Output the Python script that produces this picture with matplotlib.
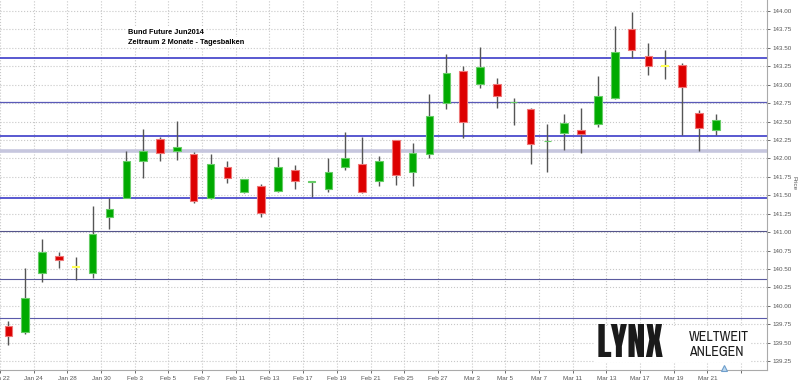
import matplotlib.pyplot as plt
import numpy as np
from matplotlib.patches import Rectangle

# daily bars, Bund Future Jun2014
dates = ["Jan 22", "Jan 23", "Jan 24", "Jan 27", "Jan 28", "Jan 29", "Jan 30", "Jan 31",
         "Feb 3", "Feb 4", "Feb 5", "Feb 6", "Feb 7", "Feb 10", "Feb 11", "Feb 12",
         "Feb 13", "Feb 14", "Feb 17", "Feb 18", "Feb 19", "Feb 20", "Feb 21", "Feb 24",
         "Feb 25", "Feb 26", "Feb 27", "Feb 28", "Mar 3", "Mar 4", "Mar 5", "Mar 6",
         "Mar 7", "Mar 10", "Mar 11", "Mar 12", "Mar 13", "Mar 14", "Mar 17", "Mar 18",
         "Mar 19", "Mar 20", "Mar 21"]
opens = [139.72, 139.64, 140.45, 140.67, 140.52, 140.44, 141.20, 141.46,
         141.97, 142.26, 142.10, 142.06, 141.46, 141.88, 141.55, 141.63,
         141.56, 141.84, 141.68, 141.59, 141.89, 141.93, 141.70, 142.25,
         141.81, 142.06, 142.75, 143.19, 143.01, 143.01, 142.76, 142.67,
         142.23, 142.35, 142.39, 142.46, 142.82, 143.76, 143.39, 143.26,
         143.27, 142.62, 142.38]
highs = [139.80, 140.51, 140.90, 140.73, 140.66, 141.36, 141.46, 142.10,
         142.40, 142.29, 142.51, 142.09, 142.06, 141.96, 141.72, 141.65,
         142.02, 141.91, 141.69, 142.00, 142.36, 142.29, 142.03, 142.25,
         142.21, 142.88, 143.42, 143.26, 143.51, 143.09, 142.82, 142.69,
         142.46, 142.60, 142.69, 143.12, 143.80, 143.98, 143.56, 143.47,
         143.29, 142.66, 142.60]
lows = [139.47, 139.62, 140.32, 140.51, 140.35, 140.38, 141.04, 141.46,
        141.74, 141.97, 141.98, 141.40, 141.45, 141.66, 141.53, 141.20,
        141.54, 141.59, 141.47, 141.54, 141.84, 141.53, 141.63, 141.64,
        141.62, 142.00, 142.67, 142.28, 142.95, 142.69, 142.45, 141.93,
        141.81, 142.12, 142.07, 142.42, 142.80, 143.36, 143.13, 143.08,
        142.32, 142.10, 142.32]
closes = [139.59, 140.11, 140.73, 140.62, 140.52, 140.98, 141.31, 141.97,
          142.10, 142.07, 142.15, 141.42, 141.92, 141.73, 141.72, 141.26,
          141.88, 141.70, 141.69, 141.82, 142.01, 141.55, 141.97, 141.78,
          142.07, 142.57, 143.16, 142.49, 143.24, 142.84, 142.77, 142.20,
          142.24, 142.48, 142.33, 142.84, 143.44, 143.47, 143.25, 143.26,
          142.97, 142.41, 142.52]

# horizontal support / resistance lines
levels = [143.36, 142.76, 142.30, 142.10, 141.46, 141.015, 140.365, 139.83]
level_colors = ["#3c3cc8", "#5a5ab8", "#3c3cc8", "#c6c6de", "#3c3cc8", "#55558c", "#5a5a9e", "#5a5aaa"]
level_widths = [1.2, 0.9, 1.2, 2.6, 1.2, 0.8, 0.8, 0.8]

x = np.arange(len(dates))
o = np.array(opens)
c = np.array(closes)

fig = plt.figure(figsize=(8, 3.81), dpi=100)
ax = fig.add_axes([0, 11 / 381, 767 / 800, 370 / 381])

ax.set_xlim(-0.415, 45.04)
ax.set_ylim(139.129, 144.149)

for lvl, col, lw in zip(levels, level_colors, level_widths):
    ax.axhline(lvl, color=col, lw=lw, zorder=2)

ax.vlines(x, lows, highs, color="#555555", lw=1, zorder=3)

up = c > o
down = c < o
flat = c == o
ax.bar(x[up], c[up] - o[up], bottom=o[up], width=0.45,
       color="#00aa00", edgecolor="#66cc66", lw=0.8, zorder=4)
ax.bar(x[down], c[down] - o[down], bottom=o[down], width=0.45,
       color="#dd0000", edgecolor="#ee7777", lw=0.8, zorder=4)
ax.hlines(c[flat], x[flat] - 0.25, x[flat] + 0.25, color="#ffff55", lw=1.5, zorder=4)

# small marker at the end of the time axis
ax.plot([len(dates) - 0.5], [139.16], marker="^", ms=5, mfc="#bcd8f0", mec="#6f9fcc",
        mew=0.8, clip_on=False, zorder=5)

# axes styling
ax.yaxis.tick_right()
yt = np.arange(139.25, 144.01, 0.25)
ax.set_yticks(yt)
ax.set_yticklabels(["%.2f" % v for v in yt])
xt = np.arange(-0.5, 45, 2)
ax.set_xticks(xt)
ax.set_xticklabels(dates[::2] + [""] * (len(xt) - len(dates[::2])))
ax.tick_params(labelsize=4.5, colors="#555555", length=2, width=0.6, pad=2)
for lab in ax.get_xticklabels() + ax.get_yticklabels():
    lab.set_family("Liberation Sans")
ax.grid(True, color="#c8c8c8", linestyle=":", lw=0.8, zorder=0)
ax.set_axisbelow(True)
for side in ["left", "top"]:
    ax.spines[side].set_visible(False)
for side in ["right", "bottom"]:
    ax.spines[side].set_color("#aaaaaa")
    ax.spines[side].set_linewidth(0.8)

fig.text(794 / 800, 1 - 183 / 381, "Price", rotation=270, fontsize=4.5, color="#555555",
         family="Liberation Sans", ha="center", va="center")

# title block
fig.text(128 / 800, 1 - 32 / 381, "Bund Future Jun2014", fontsize=5.3, weight="bold",
         family="Liberation Sans", va="center", ha="left",
         bbox=dict(fc="white", ec="none", pad=1))
fig.text(128 / 800, 1 - 42 / 381, "Zeitraum 2 Monate - Tagesbalken", fontsize=5.3, weight="bold",
         family="Liberation Sans", va="center", ha="left",
         bbox=dict(fc="white", ec="none", pad=1))

# logo
fig.patches.append(Rectangle((594 / 800, 1 - 362 / 381), 156 / 800, 36 / 381,
                             transform=fig.transFigure, fc="white", ec="none", zorder=6))
fig.text(597 / 800, 1 - 357 / 381, "LYNX", fontsize=26.5, color="#1a1a1a",
         family=["Anton", "Liberation Sans"], va="baseline", ha="left", zorder=7)
fig.text(689 / 800, 1 - 341 / 381, "WELTWEIT", fontsize=10, color="#1a1a1a",
         family=["Archivo Narrow", "Liberation Sans"], va="baseline", ha="left", zorder=7)
fig.text(689 / 800, 1 - 355.5 / 381, "ANLEGEN", fontsize=10, color="#1a1a1a",
         family=["Archivo Narrow", "Liberation Sans"], va="baseline", ha="left", zorder=7)

fig.savefig("out.png", dpi=100)
